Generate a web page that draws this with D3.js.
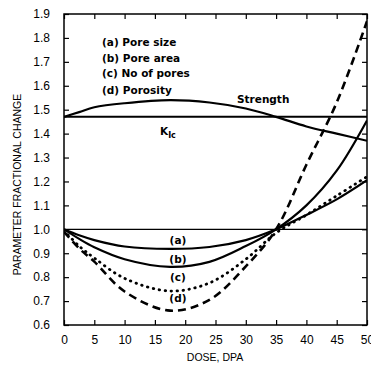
<!DOCTYPE html>
<html><head><meta charset="utf-8">
<script src="https://cdn.jsdelivr.net/npm/d3@7"></script>
<style>body{margin:0;background:#fff}svg{display:block}</style>
</head><body><svg id="c" width="371" height="371"></svg>
<script>
const dose      = [0, 2.5, 5, 10, 17.5, 24, 30, 35, 40, 45, 50];
const poreSize  = [1.0, 0.975, 0.955, 0.928, 0.918, 0.926, 0.955, 1.0, 1.06, 1.125, 1.205];
const poreArea  = [1.0, 0.96, 0.925, 0.875, 0.843, 0.864, 0.93, 1.0, 1.10, 1.245, 1.455];
const noPores   = [0.995, 0.93, 0.88, 0.795, 0.742, 0.776, 0.875, 0.985, 1.06, 1.14, 1.22];
const porosity  = [0.99, 0.92, 0.865, 0.74, 0.66, 0.705, 0.845, 1.0, 1.27, 1.53, 1.87];
const strength  = [1.47, 1.49, 1.51, 1.527, 1.54, 1.53, 1.505, 1.47, 1.43, 1.40, 1.37];
const kic       = [1.47, 1.47, 1.47, 1.47, 1.47, 1.47, 1.47, 1.47, 1.47, 1.47, 1.47];
const xTicks = [0,5,10,15,20,25,30,35,40,45,50];
const yTicks = [0.6,0.7,0.8,0.9,1.0,1.1,1.2,1.3,1.4,1.5,1.6,1.7,1.8,1.9];
const legendItems = ["(a) Pore size","(b) Pore area","(c) No of pores","(d) Porosity"];
const curveLabels = ["(a)","(b)","(c)","(d)"];

const svg = d3.select("#c");
const L=64, R=367, T=14, B=325;
const x = d3.scaleLinear().domain([0,50]).range([L,R]);
const y = d3.scaleLinear().domain([0.6,1.9]).range([B,T]);
const font = "'Liberation Sans', Arial, sans-serif";
const bfont = "'DejaVu Sans', sans-serif";

svg.append("rect").attr("x",L).attr("y",T).attr("width",R-L).attr("height",B-T)
  .attr("fill","none").attr("stroke","#000").attr("stroke-width",1.5);

const bx = svg.append("g").attr("transform",`translate(0,${B})`)
  .call(d3.axisBottom(x).tickValues(xTicks).tickSizeInner(-5).tickSizeOuter(0).tickPadding(10).tickFormat(d3.format("d")));
const tx = svg.append("g").attr("transform",`translate(0,${T})`)
  .call(d3.axisTop(x).tickValues(xTicks).tickSizeInner(-5).tickSizeOuter(0).tickFormat(""));
const ly = svg.append("g").attr("transform",`translate(${L},0)`)
  .call(d3.axisLeft(y).tickValues(yTicks).tickSizeInner(-5).tickSizeOuter(0).tickPadding(14).tickFormat(d3.format(".1f")));
const ry = svg.append("g").attr("transform",`translate(${R},0)`)
  .call(d3.axisRight(y).tickValues(yTicks).tickSizeInner(-5).tickSizeOuter(0).tickFormat(""));
[bx,tx,ly,ry].forEach(g=>{
  g.select(".domain").remove();
  g.selectAll("line").attr("stroke","#000").attr("stroke-width",1.2);
  g.selectAll("text").attr("font-family",font).attr("font-size",12).attr("fill","#000");
});

svg.append("line").attr("x1",L).attr("x2",R).attr("y1",y(1.0)).attr("y2",y(1.0))
  .attr("stroke","#000").attr("stroke-width",1.2);

const line = d3.line().x((d,i)=>x(dose[i])).y(d=>y(d)).curve(d3.curveCatmullRom);
const series = [
  {v:kic, w:2, dash:null},
  {v:strength, w:2.2, dash:null},
  {v:poreSize, w:2.2, dash:null},
  {v:poreArea, w:2.2, dash:null},
  {v:noPores, w:2.8, dash:"0.5,5.5", cap:"round"},
  {v:porosity, w:2.6, dash:"8,5"}
];
svg.append("clipPath").attr("id","pc").append("rect")
  .attr("x",L).attr("y",T).attr("width",R-L).attr("height",B-T);
series.forEach(s=>{
  svg.append("path").attr("d",line(s.v)).attr("fill","none").attr("stroke","#000")
    .attr("stroke-width",s.w).attr("stroke-dasharray",s.dash)
    .attr("stroke-linecap",s.cap||"butt").attr("clip-path","url(#pc)");
});

const lg = svg.append("g").attr("font-family",bfont).attr("font-weight","bold").attr("font-size",10.5);
legendItems.forEach((t,i)=>{
  lg.append("text").attr("x",102).attr("y",46+i*15.5+(i==3?1.5:0)).text(t);
});
const cl = svg.append("g").attr("font-family",bfont).attr("font-weight","bold").attr("font-size",10.5).attr("text-anchor","middle");
const clY = [0.955, 0.876, 0.801, 0.713];
curveLabels.forEach((t,i)=>{
  cl.append("text").attr("x",x(18.8)).attr("y",y(clY[i])+4).text(t);
});
svg.append("text").attr("x",237).attr("y",103).attr("font-family",bfont).attr("font-weight","bold").attr("font-size",10.5).text("Strength");
const k = svg.append("text").attr("x",160).attr("y",135).attr("font-family",bfont).attr("font-weight","bold").attr("font-size",10.5);
k.append("tspan").text("K");
k.append("tspan").attr("font-size",8).attr("dy",3).text("Ic");

svg.append("text").attr("x",215).attr("y",361).attr("text-anchor","middle")
  .attr("font-family",font).attr("font-size",10.5).text("DOSE, DPA");
svg.append("text").attr("transform",`translate(21,${(T+B)/2+15}) rotate(-90)`).attr("text-anchor","middle")
  .attr("font-family",font).attr("font-size",10.5).text("PARAMETER FRACTIONAL CHANGE");
</script></body></html>
